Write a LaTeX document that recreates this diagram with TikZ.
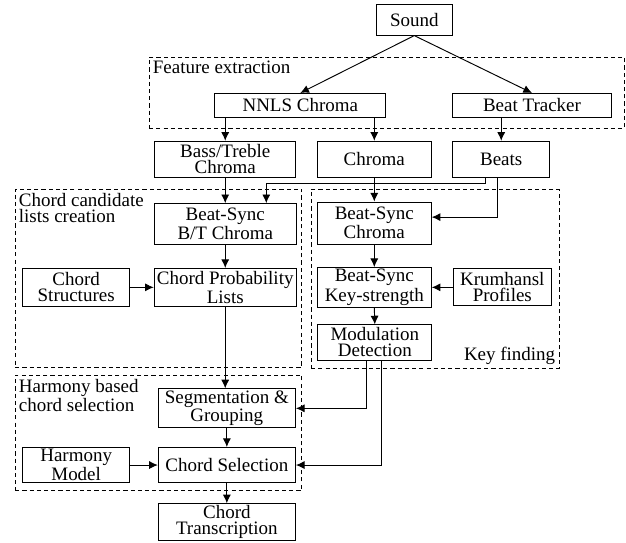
\documentclass[tikz,border=0pt]{standalone}
\usepackage{fontspec}
\setmainfont{Liberation Serif}
\usetikzlibrary{arrows.meta}

\begin{document}
\begin{tikzpicture}[
  box/.style={draw, rectangle, align=center, inner sep=1pt, font=\fontsize{10}{8.5}\selectfont},
  grp/.style={draw, rectangle, dash pattern=on 2.2pt off 1.6pt, inner sep=0pt},
  grplabel/.style={align=left, inner sep=2pt, font=\fontsize{10}{8.5}\selectfont},
  >={Latex[length=1.6mm, width=1.5mm]},
  line width=0.5pt]

\useasboundingbox (0,0) rectangle (11.59,10.04);

% dashed groups
\node[grp, minimum width=8.80cm, minimum height=1.31cm] at (7.16, 8.325) (fe) {};
\node[grp, minimum width=5.31cm, minimum height=3.30cm] at (2.935, 4.89) (cc) {};
\node[grp, minimum width=4.59cm, minimum height=3.32cm] at (8.055, 4.88) (kf) {};
\node[grp, minimum width=5.31cm, minimum height=2.13cm] at (2.935, 2.025) (hb) {};
\node[grplabel, anchor=north west] at (fe.north west) (felab) {Feature extraction};
\node[grplabel, anchor=north west] at (cc.north west) (cclab) {Chord candidate\\lists creation};
\node[grplabel, anchor=south east] at (kf.south east) (kflab) {Key finding};
\node[grplabel, anchor=north west] at (hb.north west) (hblab) {Harmony based\\chord selection};

% input and feature extraction
\node[box, minimum width=1.41cm, minimum height=0.56cm] at (7.67, 9.67) (snd) {Sound};
\node[box, minimum width=3.17cm, minimum height=0.44cm] at (5.56, 8.09) (nnls) {NNLS Chroma};
\node[box, minimum width=2.96cm, minimum height=0.44cm] at (9.85, 8.09) (btr) {Beat Tracker};
\draw[->] (snd.south) -- (nnls.north);
\draw[->] (snd.south) -- (btr.north);

% features
\node[box, minimum width=2.61cm, minimum height=0.67cm] at (4.17, 7.09) (btc) {Bass/Treble\\Chroma};
\node[box, minimum width=2.11cm, minimum height=0.67cm] at (6.93, 7.09) (chr) {Chroma};
\node[box, minimum width=1.80cm, minimum height=0.67cm] at (9.28, 7.09) (bts) {Beats};
\draw[->] (nnls.south -| btc.north) -- (btc.north);
\draw[->] (nnls.south -| chr.north) -- (chr.north);
\draw[->] (btr.south -| bts.north) -- (bts.north);

% chord candidate lists
\node[box, minimum width=2.63cm, minimum height=0.76cm] at (4.17, 5.89) (bsbt) {Beat-Sync\\B/T Chroma};
\node[box, minimum width=1.98cm, minimum height=0.70cm] at (1.41, 4.72) (cstr) {Chord\\Structures};
\node[box, minimum width=2.63cm, minimum height=0.70cm] at (4.17, 4.72) (cpl) {Chord Probability\\Lists};
\coordinate (bsplit) at (4.93, 6.65);
\draw[->] (btc.south) -- (bsbt.north);
\draw[->] ([xshift=-0.30cm]bts.south) |- (bsplit) -- (bsplit |- bsbt.north);
\draw[->] (bsbt.south) -- (cpl.north);
\draw[->] (cstr.east) -- (cpl.west);

% key finding
\node[box, minimum width=2.11cm, minimum height=0.78cm] at (6.93, 5.91) (bsc) {Beat-Sync\\Chroma};
\node[box, minimum width=2.11cm, minimum height=0.69cm] at (6.93, 4.72) (bks) {Beat-Sync\\Key-strength};
\node[box, minimum width=1.81cm, minimum height=0.69cm] at (9.30, 4.72) (krm) {Krumhansl\\Profiles};
\node[box, minimum width=2.11cm, minimum height=0.65cm] at (6.94, 3.70) (mod) {Modulation\\Detection};
\draw[->] (chr.south) -- (bsc.north);
\draw[->] ([xshift=-0.07cm]bts.south) |- ([yshift=0.11cm]bsc.east);
\draw[->] (bsc.south) -- (bks.north);
\draw[->] (krm.west) -- (bks.east);
\draw[->] (bks.south) -- (mod.north);

% harmony based selection
\node[box, minimum width=2.54cm, minimum height=0.65cm] at (4.20, 2.48) (seg) {Segmentation \&\\Grouping};
\node[box, minimum width=2.54cm, minimum height=0.65cm] at (4.20, 1.43) (csel) {Chord Selection};
\node[box, minimum width=1.98cm, minimum height=0.65cm] at (1.41, 1.43) (hmod) {Harmony\\Model};
\draw[->] (cpl.south) -- (cpl.south |- seg.north);
\draw[->] ([xshift=-0.15cm]mod.south) |- (seg.east);
\draw[->] ([xshift=0.13cm]mod.south) |- (csel.east);
\draw[->] (seg.south) -- (csel.north);
\draw[->] (hmod.east) -- (csel.west);

% output
\node[box, minimum width=2.54cm, minimum height=0.67cm] at (4.20, 0.37) (trn) {Chord\\Transcription};
\draw[->] (csel.south) -- (trn.north);

\end{tikzpicture}
\end{document}
